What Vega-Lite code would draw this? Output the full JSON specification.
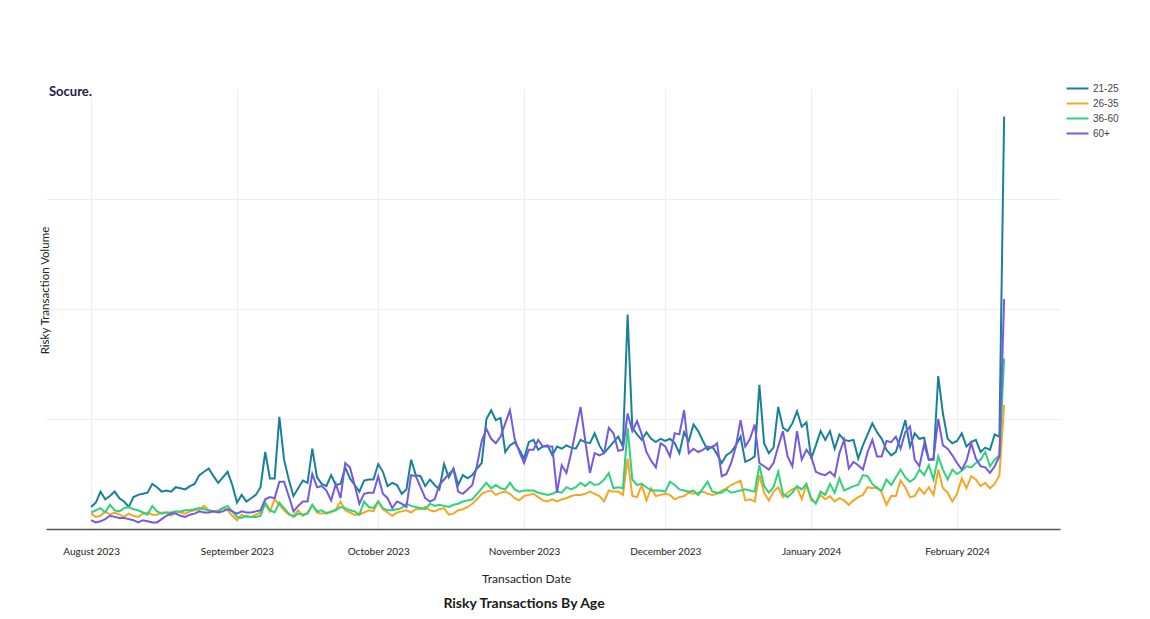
{
"$schema": "https://vega.github.io/schema/vega-lite/v6.json",
"background": "white",
"padding": {"left": 39, "top": 82, "right": 5, "bottom": 5},
"title": {"text": "Socure.", "anchor": "start", "frame": "bounds", "orient": "top", "offset": -17, "dx": 10, "fontSize": 13, "fontWeight": "bold", "color": "#1f1b4d", "font": "Lato"},
"config": {"view": {"stroke": null}, "font": "Lato"},
"vconcat": [{
"width": 1014, "height": 440,
"title": {"text": "Risky Transactions By Age", "orient": "bottom", "anchor": "middle", "frame": "group", "offset": 13, "dx": -29, "fontSize": 14, "fontWeight": "bold", "color": "#1a1a1a", "font": "Lato"},
"data": {"format": {"parse": {"d": "date:'%Y-%m-%d'"}}, "values": [
{"d":"2023-08-01","21-25":20,"26-35":14,"36-60":15,"60+":8},
{"d":"2023-08-02","21-25":24,"26-35":11,"36-60":17,"60+":6},
{"d":"2023-08-03","21-25":34,"26-35":12,"36-60":19,"60+":7},
{"d":"2023-08-04","21-25":27,"26-35":16,"36-60":15,"60+":9},
{"d":"2023-08-05","21-25":30,"26-35":13,"36-60":22,"60+":12},
{"d":"2023-08-06","21-25":34,"26-35":15,"36-60":17,"60+":11},
{"d":"2023-08-07","21-25":28,"26-35":13,"36-60":16,"60+":10},
{"d":"2023-08-08","21-25":25,"26-35":11,"36-60":19,"60+":10},
{"d":"2023-08-09","21-25":20,"26-35":14,"36-60":20,"60+":9},
{"d":"2023-08-10","21-25":29,"26-35":12,"36-60":18,"60+":8},
{"d":"2023-08-11","21-25":31,"26-35":11,"36-60":17,"60+":6},
{"d":"2023-08-12","21-25":32,"26-35":14,"36-60":15,"60+":8},
{"d":"2023-08-13","21-25":33,"26-35":15,"36-60":13,"60+":7},
{"d":"2023-08-14","21-25":41,"26-35":13,"36-60":21,"60+":6},
{"d":"2023-08-15","21-25":38,"26-35":13,"36-60":16,"60+":6},
{"d":"2023-08-16","21-25":34,"26-35":15,"36-60":14,"60+":9},
{"d":"2023-08-17","21-25":35,"26-35":15,"36-60":15,"60+":12},
{"d":"2023-08-18","21-25":34,"26-35":12,"36-60":15,"60+":14},
{"d":"2023-08-19","21-25":38,"26-35":16,"36-60":16,"60+":14},
{"d":"2023-08-20","21-25":37,"26-35":15,"36-60":16,"60+":12},
{"d":"2023-08-21","21-25":36,"26-35":14,"36-60":17,"60+":11},
{"d":"2023-08-22","21-25":39,"26-35":16,"36-60":17,"60+":13},
{"d":"2023-08-23","21-25":41,"26-35":17,"36-60":18,"60+":14},
{"d":"2023-08-24","21-25":49,"26-35":18,"36-60":19,"60+":16},
{"d":"2023-08-25","21-25":52,"26-35":21,"36-60":18,"60+":15},
{"d":"2023-08-26","21-25":55,"26-35":17,"36-60":17,"60+":15},
{"d":"2023-08-27","21-25":48,"26-35":16,"36-60":16,"60+":16},
{"d":"2023-08-28","21-25":42,"26-35":17,"36-60":16,"60+":15},
{"d":"2023-08-29","21-25":47,"26-35":19,"36-60":19,"60+":16},
{"d":"2023-08-30","21-25":52,"26-35":17,"36-60":21,"60+":18},
{"d":"2023-08-31","21-25":40,"26-35":12,"36-60":16,"60+":16},
{"d":"2023-09-01","21-25":24,"26-35":8,"36-60":11,"60+":14},
{"d":"2023-09-02","21-25":31,"26-35":13,"36-60":10,"60+":16},
{"d":"2023-09-03","21-25":25,"26-35":11,"36-60":12,"60+":15},
{"d":"2023-09-04","21-25":28,"26-35":11,"36-60":11,"60+":15},
{"d":"2023-09-05","21-25":31,"26-35":13,"36-60":11,"60+":16},
{"d":"2023-09-06","21-25":38,"26-35":15,"36-60":12,"60+":17},
{"d":"2023-09-07","21-25":70,"26-35":22,"36-60":24,"60+":27},
{"d":"2023-09-08","21-25":46,"26-35":16,"36-60":17,"60+":29},
{"d":"2023-09-09","21-25":46,"26-35":27,"36-60":15,"60+":28},
{"d":"2023-09-10","21-25":102,"26-35":22,"36-60":24,"60+":43},
{"d":"2023-09-11","21-25":63,"26-35":17,"36-60":19,"60+":43},
{"d":"2023-09-12","21-25":45,"26-35":13,"36-60":14,"60+":30},
{"d":"2023-09-13","21-25":30,"26-35":12,"36-60":11,"60+":16},
{"d":"2023-09-14","21-25":37,"26-35":17,"36-60":14,"60+":21},
{"d":"2023-09-15","21-25":44,"26-35":12,"36-60":13,"60+":25},
{"d":"2023-09-16","21-25":42,"26-35":15,"36-60":14,"60+":25},
{"d":"2023-09-17","21-25":73,"26-35":22,"36-60":22,"60+":50},
{"d":"2023-09-18","21-25":47,"26-35":15,"36-60":16,"60+":38},
{"d":"2023-09-19","21-25":41,"26-35":14,"36-60":17,"60+":39},
{"d":"2023-09-20","21-25":39,"26-35":15,"36-60":14,"60+":35},
{"d":"2023-09-21","21-25":49,"26-35":15,"36-60":16,"60+":26},
{"d":"2023-09-22","21-25":40,"26-35":18,"36-60":17,"60+":41},
{"d":"2023-09-23","21-25":41,"26-35":25,"36-60":20,"60+":28},
{"d":"2023-09-24","21-25":56,"26-35":17,"36-60":19,"60+":60},
{"d":"2023-09-25","21-25":46,"26-35":15,"36-60":17,"60+":56},
{"d":"2023-09-26","21-25":40,"26-35":13,"36-60":16,"60+":40},
{"d":"2023-09-27","21-25":34,"26-35":13,"36-60":13,"60+":23},
{"d":"2023-09-28","21-25":44,"26-35":15,"36-60":25,"60+":32},
{"d":"2023-09-29","21-25":45,"26-35":17,"36-60":20,"60+":33},
{"d":"2023-09-30","21-25":45,"26-35":16,"36-60":19,"60+":33},
{"d":"2023-10-01","21-25":59,"26-35":25,"36-60":25,"60+":48},
{"d":"2023-10-02","21-25":52,"26-35":18,"36-60":19,"60+":32},
{"d":"2023-10-03","21-25":39,"26-35":15,"36-60":17,"60+":28},
{"d":"2023-10-04","21-25":42,"26-35":12,"36-60":17,"60+":19},
{"d":"2023-10-05","21-25":40,"26-35":15,"36-60":18,"60+":25},
{"d":"2023-10-06","21-25":32,"26-35":16,"36-60":19,"60+":23},
{"d":"2023-10-07","21-25":36,"26-35":17,"36-60":23,"60+":20},
{"d":"2023-10-08","21-25":63,"26-35":15,"36-60":21,"60+":49},
{"d":"2023-10-09","21-25":49,"26-35":18,"36-60":20,"60+":48},
{"d":"2023-10-10","21-25":48,"26-35":18,"36-60":19,"60+":38},
{"d":"2023-10-11","21-25":39,"26-35":20,"36-60":18,"60+":28},
{"d":"2023-10-12","21-25":45,"26-35":17,"36-60":23,"60+":25},
{"d":"2023-10-13","21-25":40,"26-35":16,"36-60":21,"60+":27},
{"d":"2023-10-14","21-25":36,"26-35":18,"36-60":22,"60+":40},
{"d":"2023-10-15","21-25":59,"26-35":19,"36-60":21,"60+":45},
{"d":"2023-10-16","21-25":47,"26-35":13,"36-60":20,"60+":50},
{"d":"2023-10-17","21-25":55,"26-35":14,"36-60":22,"60+":54},
{"d":"2023-10-18","21-25":40,"26-35":17,"36-60":23,"60+":34},
{"d":"2023-10-19","21-25":49,"26-35":18,"36-60":25,"60+":32},
{"d":"2023-10-20","21-25":46,"26-35":20,"36-60":26,"60+":36},
{"d":"2023-10-21","21-25":49,"26-35":23,"36-60":27,"60+":40},
{"d":"2023-10-22","21-25":55,"26-35":27,"36-60":32,"60+":58},
{"d":"2023-10-23","21-25":60,"26-35":32,"36-60":37,"60+":80},
{"d":"2023-10-24","21-25":100,"26-35":34,"36-60":42,"60+":91},
{"d":"2023-10-25","21-25":108,"26-35":35,"36-60":37,"60+":82},
{"d":"2023-10-26","21-25":99,"26-35":31,"36-60":40,"60+":78},
{"d":"2023-10-27","21-25":101,"26-35":33,"36-60":37,"60+":84},
{"d":"2023-10-28","21-25":70,"26-35":34,"36-60":36,"60+":96},
{"d":"2023-10-29","21-25":76,"26-35":32,"36-60":42,"60+":108},
{"d":"2023-10-30","21-25":79,"26-35":28,"36-60":36,"60+":82},
{"d":"2023-10-31","21-25":72,"26-35":26,"36-60":34,"60+":70},
{"d":"2023-11-01","21-25":64,"26-35":30,"36-60":35,"60+":60},
{"d":"2023-11-02","21-25":79,"26-35":31,"36-60":35,"60+":72},
{"d":"2023-11-03","21-25":81,"26-35":32,"36-60":35,"60+":72},
{"d":"2023-11-04","21-25":72,"26-35":29,"36-60":33,"60+":81},
{"d":"2023-11-05","21-25":75,"26-35":26,"36-60":32,"60+":75},
{"d":"2023-11-06","21-25":76,"26-35":25,"36-60":31,"60+":75},
{"d":"2023-11-07","21-25":67,"26-35":27,"36-60":32,"60+":75},
{"d":"2023-11-08","21-25":75,"26-35":25,"36-60":34,"60+":33},
{"d":"2023-11-09","21-25":73,"26-35":27,"36-60":33,"60+":58},
{"d":"2023-11-10","21-25":76,"26-35":28,"36-60":38,"60+":51},
{"d":"2023-11-11","21-25":74,"26-35":30,"36-60":36,"60+":69},
{"d":"2023-11-12","21-25":73,"26-35":31,"36-60":38,"60+":90},
{"d":"2023-11-13","21-25":81,"26-35":31,"36-60":42,"60+":111},
{"d":"2023-11-14","21-25":79,"26-35":32,"36-60":39,"60+":80},
{"d":"2023-11-15","21-25":78,"26-35":34,"36-60":43,"60+":51},
{"d":"2023-11-16","21-25":87,"26-35":32,"36-60":40,"60+":69},
{"d":"2023-11-17","21-25":76,"26-35":30,"36-60":41,"60+":67},
{"d":"2023-11-18","21-25":69,"26-35":25,"36-60":45,"60+":69},
{"d":"2023-11-19","21-25":74,"26-35":35,"36-60":51,"60+":92},
{"d":"2023-11-20","21-25":79,"26-35":34,"36-60":37,"60+":87},
{"d":"2023-11-21","21-25":84,"26-35":34,"36-60":38,"60+":71},
{"d":"2023-11-22","21-25":75,"26-35":31,"36-60":37,"60+":72},
{"d":"2023-11-23","21-25":195,"26-35":64,"36-60":92,"60+":105},
{"d":"2023-11-24","21-25":92,"26-35":30,"36-60":45,"60+":89},
{"d":"2023-11-25","21-25":86,"26-35":29,"36-60":40,"60+":98},
{"d":"2023-11-26","21-25":81,"26-35":40,"36-60":41,"60+":86},
{"d":"2023-11-27","21-25":88,"26-35":26,"36-60":38,"60+":70},
{"d":"2023-11-28","21-25":82,"26-35":37,"36-60":35,"60+":62},
{"d":"2023-11-29","21-25":79,"26-35":30,"36-60":35,"60+":56},
{"d":"2023-11-30","21-25":82,"26-35":31,"36-60":35,"60+":78},
{"d":"2023-12-01","21-25":80,"26-35":32,"36-60":34,"60+":75},
{"d":"2023-12-02","21-25":82,"26-35":31,"36-60":43,"60+":66},
{"d":"2023-12-03","21-25":78,"26-35":27,"36-60":40,"60+":87},
{"d":"2023-12-04","21-25":69,"26-35":29,"36-60":36,"60+":86},
{"d":"2023-12-05","21-25":88,"26-35":30,"36-60":35,"60+":108},
{"d":"2023-12-06","21-25":80,"26-35":33,"36-60":34,"60+":69},
{"d":"2023-12-07","21-25":95,"26-35":32,"36-60":35,"60+":73},
{"d":"2023-12-08","21-25":89,"26-35":33,"36-60":31,"60+":70},
{"d":"2023-12-09","21-25":80,"26-35":34,"36-60":37,"60+":72},
{"d":"2023-12-10","21-25":72,"26-35":32,"36-60":43,"60+":75},
{"d":"2023-12-11","21-25":75,"26-35":31,"36-60":34,"60+":74},
{"d":"2023-12-12","21-25":68,"26-35":32,"36-60":33,"60+":78},
{"d":"2023-12-13","21-25":60,"26-35":35,"36-60":33,"60+":48},
{"d":"2023-12-14","21-25":67,"26-35":37,"36-60":36,"60+":50},
{"d":"2023-12-15","21-25":70,"26-35":40,"36-60":33,"60+":60},
{"d":"2023-12-16","21-25":76,"26-35":42,"36-60":34,"60+":75},
{"d":"2023-12-17","21-25":84,"26-35":44,"36-60":35,"60+":99},
{"d":"2023-12-18","21-25":61,"26-35":26,"36-60":36,"60+":75},
{"d":"2023-12-19","21-25":63,"26-35":27,"36-60":35,"60+":82},
{"d":"2023-12-20","21-25":66,"26-35":25,"36-60":34,"60+":95},
{"d":"2023-12-21","21-25":131,"26-35":49,"36-60":58,"60+":60},
{"d":"2023-12-22","21-25":78,"26-35":33,"36-60":39,"60+":57},
{"d":"2023-12-23","21-25":69,"26-35":26,"36-60":33,"60+":54},
{"d":"2023-12-24","21-25":74,"26-35":34,"36-60":38,"60+":60},
{"d":"2023-12-25","21-25":111,"26-35":38,"36-60":52,"60+":75},
{"d":"2023-12-26","21-25":92,"26-35":29,"36-60":32,"60+":89},
{"d":"2023-12-27","21-25":89,"26-35":33,"36-60":29,"60+":66},
{"d":"2023-12-28","21-25":96,"26-35":36,"36-60":33,"60+":57},
{"d":"2023-12-29","21-25":107,"26-35":38,"36-60":39,"60+":89},
{"d":"2023-12-30","21-25":93,"26-35":27,"36-60":36,"60+":63},
{"d":"2023-12-31","21-25":97,"26-35":40,"36-60":41,"60+":72},
{"d":"2024-01-01","21-25":64,"26-35":26,"36-60":28,"60+":66},
{"d":"2024-01-02","21-25":76,"26-35":24,"36-60":23,"60+":52},
{"d":"2024-01-03","21-25":89,"26-35":31,"36-60":34,"60+":50},
{"d":"2024-01-04","21-25":81,"26-35":27,"36-60":31,"60+":49},
{"d":"2024-01-05","21-25":89,"26-35":30,"36-60":41,"60+":52},
{"d":"2024-01-06","21-25":73,"26-35":25,"36-60":33,"60+":48},
{"d":"2024-01-07","21-25":86,"26-35":28,"36-60":46,"60+":69},
{"d":"2024-01-08","21-25":81,"26-35":26,"36-60":35,"60+":81},
{"d":"2024-01-09","21-25":80,"26-35":22,"36-60":37,"60+":55},
{"d":"2024-01-10","21-25":81,"26-35":26,"36-60":39,"60+":61},
{"d":"2024-01-11","21-25":64,"26-35":29,"36-60":40,"60+":58},
{"d":"2024-01-12","21-25":76,"26-35":31,"36-60":49,"60+":54},
{"d":"2024-01-13","21-25":86,"26-35":38,"36-60":48,"60+":70},
{"d":"2024-01-14","21-25":96,"26-35":37,"36-60":41,"60+":81},
{"d":"2024-01-15","21-25":88,"26-35":38,"36-60":37,"60+":66},
{"d":"2024-01-16","21-25":82,"26-35":33,"36-60":35,"60+":66},
{"d":"2024-01-17","21-25":72,"26-35":22,"36-60":45,"60+":80},
{"d":"2024-01-18","21-25":67,"26-35":30,"36-60":40,"60+":79},
{"d":"2024-01-19","21-25":70,"26-35":30,"36-60":47,"60+":84},
{"d":"2024-01-20","21-25":84,"26-35":44,"36-60":54,"60+":73},
{"d":"2024-01-21","21-25":99,"26-35":38,"36-60":47,"60+":88},
{"d":"2024-01-22","21-25":75,"26-35":29,"36-60":43,"60+":93},
{"d":"2024-01-23","21-25":87,"26-35":30,"36-60":46,"60+":63},
{"d":"2024-01-24","21-25":82,"26-35":37,"36-60":54,"60+":57},
{"d":"2024-01-25","21-25":83,"26-35":32,"36-60":49,"60+":77},
{"d":"2024-01-26","21-25":63,"26-35":38,"36-60":58,"60+":63},
{"d":"2024-01-27","21-25":63,"26-35":31,"36-60":45,"60+":64},
{"d":"2024-01-28","21-25":139,"26-35":54,"36-60":66,"60+":100},
{"d":"2024-01-29","21-25":105,"26-35":37,"36-60":54,"60+":76},
{"d":"2024-01-30","21-25":82,"26-35":33,"36-60":45,"60+":73},
{"d":"2024-01-31","21-25":78,"26-35":25,"36-60":54,"60+":67},
{"d":"2024-02-01","21-25":80,"26-35":32,"36-60":50,"60+":60},
{"d":"2024-02-02","21-25":87,"26-35":46,"36-60":53,"60+":54},
{"d":"2024-02-03","21-25":75,"26-35":37,"36-60":57,"60+":62},
{"d":"2024-02-04","21-25":79,"26-35":48,"36-60":56,"60+":78},
{"d":"2024-02-05","21-25":81,"26-35":45,"36-60":60,"60+":64},
{"d":"2024-02-06","21-25":70,"26-35":39,"36-60":63,"60+":57},
{"d":"2024-02-07","21-25":74,"26-35":42,"36-60":70,"60+":56},
{"d":"2024-02-08","21-25":72,"26-35":37,"36-60":57,"60+":51},
{"d":"2024-02-09","21-25":86,"26-35":41,"36-60":63,"60+":57},
{"d":"2024-02-10","21-25":84,"26-35":49,"36-60":67,"60+":66},
{"d":"2024-02-11","21-25":375,"26-35":113,"36-60":155,"60+":209}
]},
"transform": [{"fold": ["21-25", "26-35", "36-60", "60+"], "as": ["age", "v"]}],
"mark": {"type": "line", "strokeWidth": 2, "interpolate": "linear"},
"encoding": {
"x": {"field": "d", "type": "temporal",
"scale": {"domain": [{"year": 2023, "month": 7, "date": 22, "hours": 10}, {"year": 2024, "month": 2, "date": 22, "hours": 21}]},
"axis": {"format": "%B %Y", "tickCount": {"interval": "month", "step": 1}, "labelFont": "Lato", "labelFontSize": 10, "labelColor": "#222", "labelPadding": 17, "ticks": false, "domainColor": "#555", "domainWidth": 1.5, "gridColor": "#eeeeee", "title": "Transaction Date", "titleFont": "Lato", "titleFontWeight": "normal", "titleFontSize": 12, "titleColor": "#222", "titlePadding": 17, "titleX": 480}},
"y": {"field": "v", "type": "quantitative",
"scale": {"domain": [0, 400], "nice": false},
"axis": {"title": "Risky Transaction Volume", "labels": false, "ticks": false, "domain": false, "values": [0, 100, 200, 300], "gridColor": "#eeeeee", "titleFont": "Lato", "titleFontWeight": "normal", "titleFontSize": 11.5, "titleColor": "#222", "titlePadding": 2, "titleX": 4, "titleY": 201}},
"color": {"field": "age", "type": "nominal",
"scale": {"domain": ["21-25", "26-35", "36-60", "60+"], "range": ["#17819b", "#f5a623", "#2dd27a", "#7559e0"]},
"legend": {"title": null, "orient": "none", "legendX": 1025, "legendY": -7, "padding": 0, "symbolType": "M-2,0H2", "symbolSize": 121, "symbolStrokeWidth": 2, "rowPadding": 3, "labelOffset": 9, "labelFont": "Liberation Sans", "labelFontSize": 10, "labelColor": "#444"}}
}
}]
}
